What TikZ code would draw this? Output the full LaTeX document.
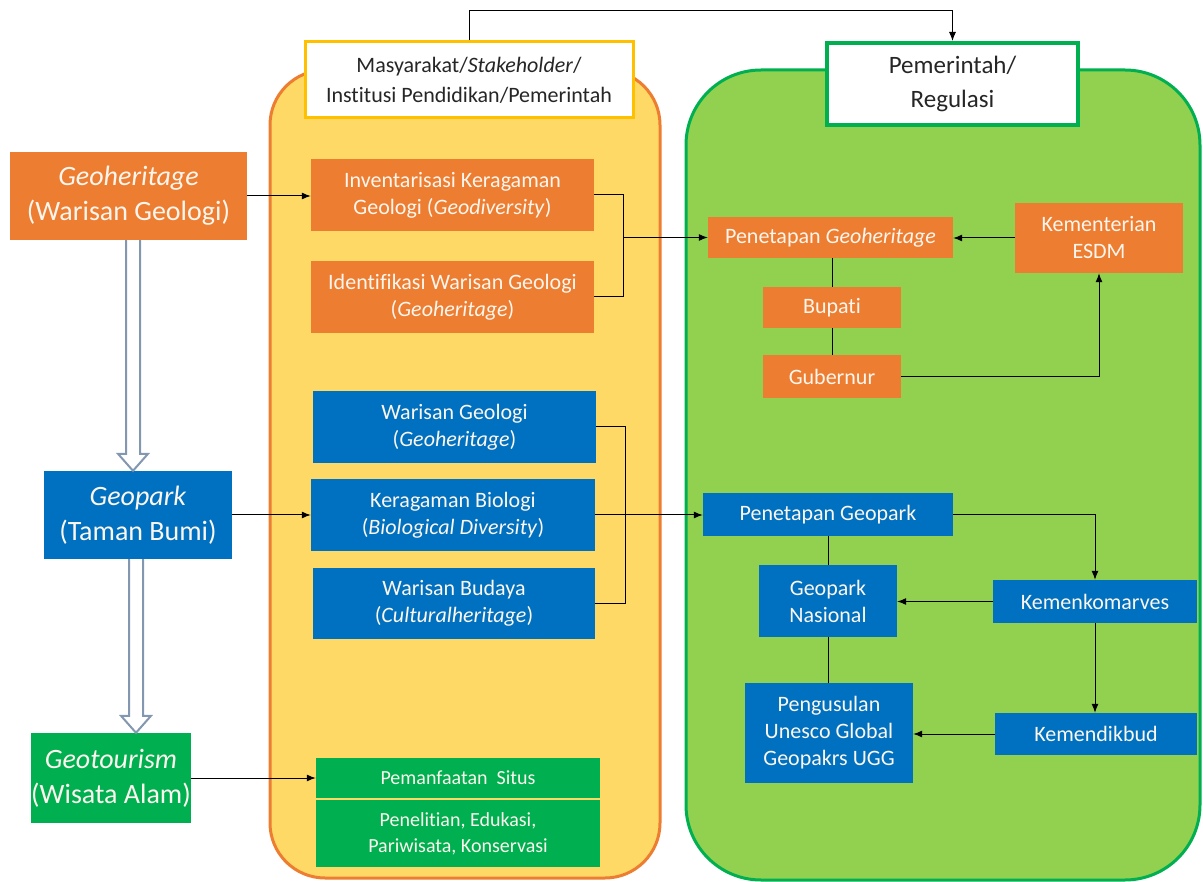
\documentclass[tikz,border=0pt]{standalone}
\usepackage{fontspec}
\setmainfont{Carlito}[Ligatures={NoCommon}]
\usetikzlibrary{arrows.meta,calc}
\definecolor{corange}{HTML}{ED7D31}
\definecolor{cblue}{HTML}{0070C0}
\definecolor{cgreen}{HTML}{00B050}
\definecolor{cyellowfill}{HTML}{FFD966}
\definecolor{cgold}{HTML}{FFC000}
\definecolor{clime}{HTML}{92D050}
\definecolor{chollow}{HTML}{8497B0}
\definecolor{ctxt}{HTML}{262626}
\definecolor{ctxtw}{HTML}{FDF6EE}
\tikzset{
  cbox/.style={rectangle, inner sep=0pt, align=center, text=ctxtw,
    font=\fontsize{22}{27}\selectfont},
  obox/.style={cbox, fill=corange},
  bbox/.style={cbox, fill=cblue},
  gbox/.style={cbox, fill=cgreen},
  bigbox/.style={font=\fontsize{28}{35}\selectfont},
  smallbox/.style={font=\fontsize{20}{26}\selectfont},
  conn/.style={draw=black, line width=1pt},
  arr/.style={conn, -{Latex[length=9pt,width=7pt]}},
  hollow/.style={draw=chollow, line width=2pt, fill=white, line join=miter},
  headbox/.style={rectangle, inner sep=0pt, align=center, fill=white, text=ctxt},
}
\begin{document}
\begin{tikzpicture}[x=1pt,y=-1pt]
\useasboundingbox (0,0) rectangle (1203,882);
% containers
\draw[draw=corange, line width=3pt, fill=cyellowfill, rounded corners=55pt] (270,70) rectangle (660,878);
\draw[draw=cgreen, line width=3pt, fill=clime, rounded corners=75pt] (686,70) rectangle (1200,880);
% headers
\node[headbox, draw=cgold, line width=3pt, minimum width=328, minimum height=76,
  font=\fontsize{22}{30}\selectfont] (hy) at (469,80)
  {Masyarakat/\textit{Stakeholder}/\\Institusi Pendidikan/Pemerintah};
\node[headbox, draw=cgreen, line width=4pt, minimum width=251, minimum height=82,
  font=\fontsize{25}{34}\selectfont] (hg) at (952.5,84)
  {Pemerintah/\\Regulasi};
\draw[arr] (hy.north) -- ++(0,-30) -| (hg.north);
% left column
\node[obox, bigbox, minimum width=237, minimum height=88] (geoh) at (128.5,196)
  {\textit{Geoheritage}\\(Warisan Geologi)};
\node[bbox, bigbox, minimum width=188, minimum height=88] (geop) at (138,515)
  {\textit{Geopark}\\(Taman Bumi)};
\node[gbox, bigbox, minimum width=158, minimum height=90] (geot) at (111,778)
  {\textit{Geotourism}\\(Wisata Alam)};
% hollow arrows
\coordinate (h1) at ($(geoh.south)+(4.5,0)$);
\coordinate (t1) at (h1 |- geop.north);
\draw[hollow] ($(h1)+(-7,0)$) -- ($(t1)+(-7,-17)$) -- ($(t1)+(-15,-17)$) -- (t1)
  -- ($(t1)+(15,-17)$) -- ($(t1)+(7,-17)$) -- ($(h1)+(7,0)$);
\coordinate (h2) at ($(geop.south)+(-2,0)$);
\coordinate (t2) at (h2 |- geot.north);
\draw[hollow] ($(h2)+(-7,0)$) -- ($(t2)+(-7,-17)$) -- ($(t2)+(-15,-17)$) -- (t2)
  -- ($(t2)+(15,-17)$) -- ($(t2)+(7,-17)$) -- ($(h2)+(7,0)$);
% middle column
\node[obox, minimum width=283, minimum height=72] (inv) at (452.5,195)
  {Inventarisasi Keragaman\\Geologi (\textit{Geodiversity})};
\node[obox, minimum width=283, minimum height=72] (ide) at (452.5,297)
  {Identifikasi Warisan Geologi\\(\textit{Geoheritage})};
\node[bbox, minimum width=283, minimum height=72] (wg) at (454.5,427)
  {Warisan Geologi\\(\textit{Geoheritage})};
\node[bbox, minimum width=284, minimum height=72] (kb) at (453,515)
  {Keragaman Biologi\\(\textit{Biological Diversity})};
\node[bbox, minimum width=282, minimum height=71] (wb) at (454,603.5)
  {Warisan Budaya\\(\textit{Culturalheritage})};
\node[gbox, smallbox, minimum width=284, minimum height=40] (pem) at (458,778)
  {Pemanfaatan\ \ Situs};
\node[gbox, smallbox, minimum width=284, minimum height=67] (pen) at (458,833.5)
  {Penelitian, Edukasi,\\Pariwisata, Konservasi};
% right column
\node[obox, minimum width=245, minimum height=41] (pgh) at (830.5,237.5)
  {Penetapan \textit{Geoheritage}};
\node[obox, minimum width=168, minimum height=70] (esdm) at (1099,238)
  {Kementerian\\ESDM};
\node[obox, minimum width=138, minimum height=41] (bup) at (832,307.5) {Bupati};
\node[obox, minimum width=138, minimum height=43] (gub) at (832,376.5) {Gubernur};
\node[bbox, minimum width=250, minimum height=43] (pgeo) at (828,514.5) {Penetapan Geopark};
\node[bbox, minimum width=138, minimum height=72] (gnas) at (828,601) {Geopark\\Nasional};
\node[bbox, minimum width=168, minimum height=100] (peng) at (829,733)
  {Pengusulan\\Unesco Global\\Geopakrs UGG};
\node[bbox, minimum width=204, minimum height=43] (kko) at (1095,601.5) {Kemenkomarves};
\node[bbox, minimum width=202, minimum height=42] (kdik) at (1096,734) {Kemendikbud};
% connectors left -> middle
\draw[arr] (geoh.east) -- (geoh.east -| inv.west);
\draw[arr] (geop.east) -- (geop.east -| kb.west);
\draw[arr] (geot.east) -- (geot.east -| pem.west);
% brackets
\coordinate (bx1) at (623,0);
\draw[conn] (inv.east) -| (bx1 |- ide.east) -- (ide.east);
\draw[arr] (bx1 |- pgh.west) -- (pgh.west);
\coordinate (bx2) at (625,0);
\draw[conn] (wg.east) -| (bx2 |- wb.east) -- (wb.east);
\draw[arr] (kb.east) -- (kb.east -| pgeo.west);
% right connectors
\draw[arr] (esdm.west) -- (esdm.west -| pgh.east);
\draw[conn] (pgh.south -| bup.north) -- (bup.north);
\draw[conn] (bup.south) -- (gub.north);
\draw[arr] (gub.east) -| (esdm.south);
\draw[arr] (pgeo.east) -| (kko.north);
\draw[arr] (kko.west) -- (kko.west -| gnas.east);
\draw[arr] (kko.south) -- (kko.south |- kdik.north);
\draw[arr] (kdik.west) -- (kdik.west -| peng.east);
\draw[conn] (pgeo.south) -- (gnas.north);
\draw[conn] (gnas.south) -- (gnas.south |- peng.north);
\end{tikzpicture}
\end{document}
